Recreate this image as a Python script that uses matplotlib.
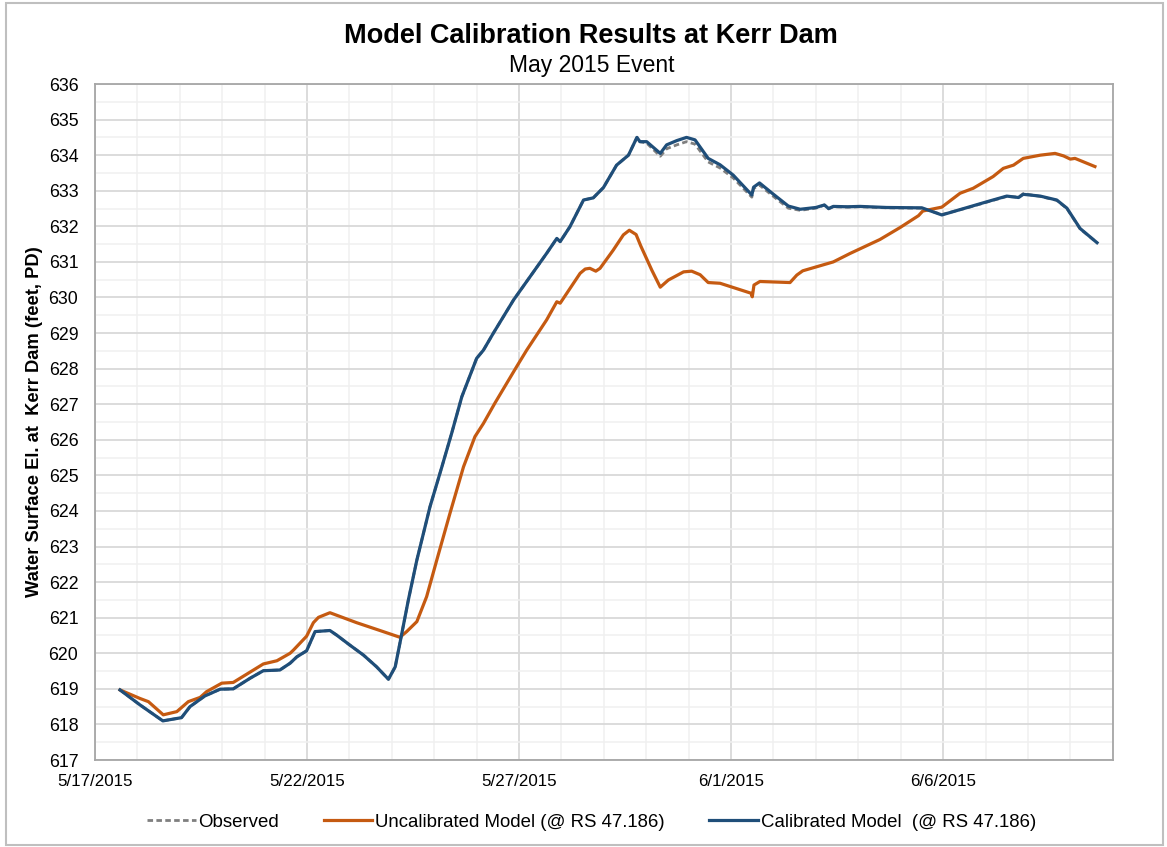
import matplotlib
matplotlib.use("Agg")
import matplotlib.pyplot as plt
import matplotlib.dates as mdates
from matplotlib.ticker import MultipleLocator
from matplotlib.patches import Rectangle
import pandas as pd

plt.rcParams['font.family'] = ['Liberation Sans', 'DejaVu Sans']

START = "2015-05-17"

# days since 5/17/2015 00:00 and water surface elevation (ft)
cal_days = [0.59, 1.06, 1.60, 2.04, 2.24, 2.59, 2.95, 3.26, 3.66, 3.97, 4.36, 4.60, 4.76, 4.99,
            5.19, 5.54, 5.70, 6.01, 6.33, 6.64, 6.92, 7.08, 7.19, 7.39, 7.59, 7.90, 8.18, 8.41,
            8.65, 9.00, 9.16, 9.39, 9.87, 10.65, 10.89, 10.97, 11.20, 11.52, 11.75, 11.99, 12.30,
            12.58, 12.78, 12.85, 13.01, 13.33, 13.48, 13.72, 13.95, 14.15, 14.46, 14.74, 15.05,
            15.49, 15.53, 15.67, 16.00, 16.35, 16.63, 17.00, 17.20, 17.30, 17.41, 17.75, 18.04,
            18.67, 19.50, 19.97, 20.60, 21.03, 21.50, 21.78, 21.89, 22.29, 22.68, 22.92, 23.23, 23.63]
cal_vals = [618.97, 618.55, 618.10, 618.19, 618.50, 618.80, 618.99, 619.00, 619.30, 619.51, 619.53,
            619.72, 619.90, 620.07, 620.61, 620.64, 620.51, 620.23, 619.95, 619.62, 619.27, 619.62,
            620.28, 621.50, 622.62, 624.12, 625.24, 626.18, 627.21, 628.29, 628.52, 628.99, 629.93,
            631.24, 631.66, 631.57, 631.99, 632.74, 632.80, 633.09, 633.72, 634.00, 634.50, 634.38,
            634.38, 634.05, 634.29, 634.41, 634.50, 634.43, 633.91, 633.73, 633.44, 632.88, 633.10,
            633.22, 632.90, 632.57, 632.48, 632.53, 632.60, 632.50, 632.56, 632.55, 632.56, 632.53,
            632.52, 632.32, 632.54, 632.69, 632.85, 632.81, 632.90, 632.85, 632.74, 632.51, 631.94,
            631.54]

obs_days = cal_days
obs_vals = [618.97, 618.55, 618.10, 618.19, 618.50, 618.80, 618.99, 619.00, 619.30, 619.51, 619.53,
            619.72, 619.90, 620.07, 620.61, 620.64, 620.51, 620.23, 619.95, 619.62, 619.27, 619.62,
            620.28, 621.50, 622.62, 624.12, 625.24, 626.18, 627.21, 628.29, 628.52, 628.99, 629.93,
            631.24, 631.66, 631.57, 631.99, 632.74, 632.80, 633.09, 633.72, 634.00, 634.50, 634.38,
            634.34, 633.97, 634.18, 634.29, 634.38, 634.31, 633.81, 633.64, 633.36, 632.82, 633.06,
            633.16, 632.84, 632.51, 632.45, 632.51, 632.60, 632.49, 632.55, 632.54, 632.55, 632.52,
            632.51, 632.33, 632.53, 632.68, 632.84, 632.82, 632.92, 632.84, 632.73, 632.50, 631.93,
            631.54]

unc_days = [0.59, 1.06, 1.26, 1.61, 1.93, 2.20, 2.48, 2.63, 2.99, 3.26, 3.97, 4.29, 4.60, 4.68,
            4.99, 5.15, 5.27, 5.54, 6.17, 6.72, 7.19, 7.35, 7.59, 7.82, 8.06, 8.37, 8.69, 8.96,
            9.16, 9.43, 9.94, 10.18, 10.65, 10.89, 10.97, 11.44, 11.56, 11.67, 11.81, 11.91, 12.22,
            12.46, 12.60, 12.76, 12.87, 13.13, 13.33, 13.52, 13.88, 14.07, 14.27, 14.46, 14.74,
            15.47, 15.50, 15.54, 15.68, 16.39, 16.55, 16.69, 17.41, 17.81, 18.51, 18.99, 19.42,
            19.52, 19.97, 20.40, 20.71, 21.18, 21.42, 21.66, 21.89, 22.29, 22.64, 22.84, 23.00,
            23.11, 23.58]
unc_vals = [618.97, 618.73, 618.64, 618.27, 618.36, 618.64, 618.76, 618.92, 619.16, 619.18, 619.70,
            619.79, 620.00, 620.09, 620.48, 620.86, 621.01, 621.14, 620.86, 620.64, 620.45, 620.61,
            620.89, 621.59, 622.62, 623.93, 625.24, 626.09, 626.46, 627.03, 628.05, 628.52, 629.37,
            629.88, 629.84, 630.68, 630.80, 630.82, 630.74, 630.82, 631.33, 631.76, 631.89, 631.77,
            631.45, 630.77, 630.29, 630.49, 630.72, 630.74, 630.64, 630.42, 630.40, 630.12, 630.02,
            630.35, 630.45, 630.42, 630.63, 630.75, 631.00, 631.24, 631.63, 631.97, 632.30, 632.43,
            632.54, 632.93, 633.07, 633.40, 633.63, 633.72, 633.91, 634.00, 634.05, 633.98, 633.89,
            633.91, 633.68]

x_tick_labels = ["5/17/2015", "5/22/2015", "5/27/2015", "6/1/2015", "6/6/2015"]
y_min, y_max = 617, 636


def to_dt(days):
    return pd.Timestamp(START) + pd.to_timedelta(days, unit="D")


fig = plt.figure(figsize=(11.67, 8.47), dpi=100)
ax = fig.add_axes([0.0814, 0.1027, 0.9535 - 0.0814, 0.9008 - 0.1027])

# outer frame of the chart
fig.patches.append(Rectangle((0.005, 0.002), 0.992, 0.994, transform=fig.transFigure,
                             fill=False, edgecolor="#BFBFBF", linewidth=1.5))

l_obs, = ax.plot(to_dt(obs_days), obs_vals, color="#7F7F7F", lw=2.0, ls=(0, (2.0, 1.2)),
                 label="Observed", zorder=3)
l_unc, = ax.plot(to_dt(unc_days), unc_vals, color="#C55A11", lw=2.3,
                 label="Uncalibrated Model (@ RS 47.186)", zorder=3.2)
l_cal, = ax.plot(to_dt(cal_days), cal_vals, color="#1F4E79", lw=2.3,
                 label="Calibrated Model  (@ RS 47.186)", zorder=3.5)

ax.set_xlim(to_dt(0), to_dt(24))
ax.set_ylim(y_min, y_max)

tick_pos = [to_dt(5 * i) for i in range(len(x_tick_labels))]
ax.set_xticks(tick_pos)
ax.set_xticklabels(x_tick_labels)
ax.xaxis.set_minor_locator(mdates.DayLocator())
ax.yaxis.set_major_locator(MultipleLocator(1))
ax.yaxis.set_minor_locator(MultipleLocator(0.5))

ax.grid(which="major", color="#D9D9D9", lw=1.3)
ax.grid(which="minor", color="#F0F0F0", lw=1.1)
ax.set_axisbelow(True)
ax.tick_params(which="both", length=0)
ax.tick_params(axis="y", labelsize=12.8, pad=12)
ax.tick_params(axis="x", labelsize=12.2, pad=10)
for s in ax.spines.values():
    s.set_color("#A6A6A6")
    s.set_linewidth(1.3)

ax.set_ylabel("Water Surface El. at  Kerr Dam (feet, PD)", fontsize=13.2, fontweight="bold", labelpad=4)

fig.text(0.506, 0.958, "Model Calibration Results at Kerr Dam", ha="center", va="center",
         fontsize=19.5, fontweight="bold")
fig.text(0.507, 0.923, "May 2015 Event", ha="center", va="center", fontsize=16.5)

fig.legend([l_obs, l_unc, l_cal], [l_obs.get_label(), l_unc.get_label(), l_cal.get_label()],
           loc="center", bbox_to_anchor=(0.507, 0.029), ncol=3, frameon=False, fontsize=13.4,
           handlelength=2.6, handletextpad=0.15, columnspacing=2.4)

fig.savefig("out.png", dpi=100)
